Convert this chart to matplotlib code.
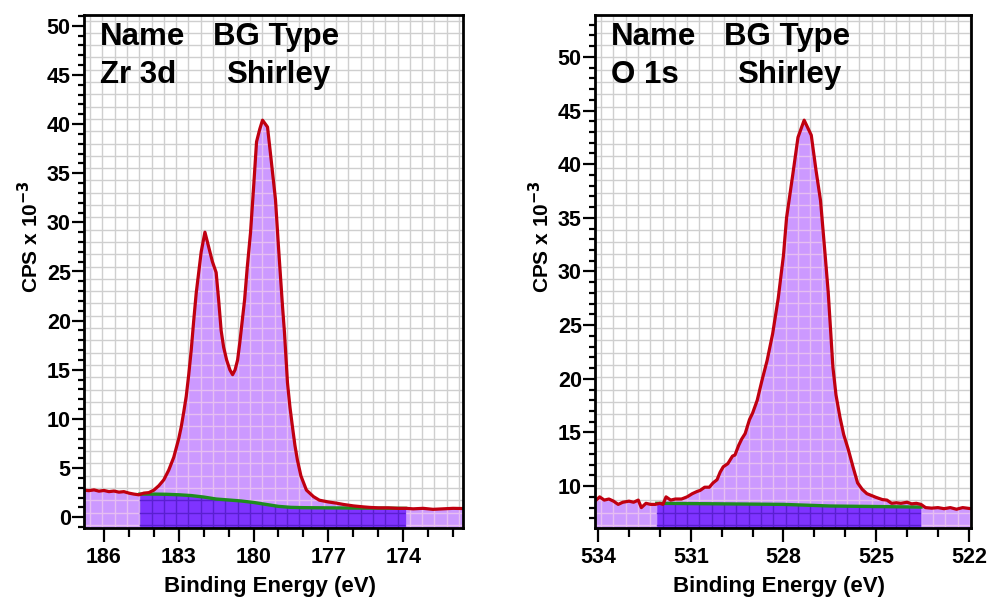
import numpy as np
import matplotlib
matplotlib.use("Agg")
import matplotlib.pyplot as plt
from matplotlib.lines import Line2D
from matplotlib.ticker import MultipleLocator

plt.rcParams['font.family'] = ['Liberation Sans', 'DejaVu Sans']
plt.rcParams['font.weight'] = 'bold'
plt.rcParams['mathtext.default'] = 'bf'

# Zr 3d spectrum (binding energy eV, CPS x 1e-3)
zr_be = [186.8, 186.6, 186.4, 186.2, 186.0, 185.8, 185.6, 185.4, 185.2, 185.0,
         184.8, 184.6, 184.4, 184.2, 184.0, 183.8, 183.6, 183.4, 183.2, 183.0,
         182.9, 182.8, 182.7, 182.6, 182.5, 182.4, 182.3, 182.2, 182.1, 181.95,
         181.8, 181.65, 181.5, 181.4, 181.3, 181.2, 181.08, 180.95, 180.84, 180.74,
         180.64, 180.55, 180.48, 180.36, 180.25, 180.12, 180.0, 179.88, 179.75, 179.64,
         179.44, 179.3, 179.12, 179.0, 178.84, 178.76, 178.64, 178.54, 178.44, 178.34,
         178.24, 178.1, 177.88, 177.6, 177.36, 177.0, 176.68, 176.4, 176.0, 175.6,
         175.36, 175.0, 174.6, 174.2, 173.88, 173.6, 173.2, 172.8, 172.4, 172.0, 171.6]
zr_cps = [2.75, 2.70, 2.78, 2.65, 2.72, 2.60, 2.66, 2.55, 2.60, 2.45,
          2.35, 2.28, 2.45, 2.50, 2.75, 3.2, 3.8, 4.8, 6.1, 8.0,
          9.2, 10.7, 12.3, 14.5, 17.0, 20.0, 22.8, 24.9, 27.0, 29.0,
          27.5, 26.0, 24.9, 22.1, 19.0, 17.3, 16.0, 15.0, 14.5, 15.0,
          16.0, 17.8, 19.4, 22.1, 25.5, 29.0, 33.5, 38.2, 39.5, 40.4,
          39.7, 36.5, 32.3, 27.5, 21.5, 18.8, 13.7, 11.2, 9.2, 7.3,
          5.8, 4.2, 2.76, 2.1, 1.73, 1.55, 1.43, 1.3, 1.15, 1.05,
          1.0, 0.95, 0.95, 0.9, 0.9, 0.85, 0.9, 0.8, 0.85, 0.9, 0.88]
zr_bg_be = [184.56, 184.0, 183.5, 183.0, 182.5, 182.0, 181.5, 181.0, 180.5, 180.0,
            179.5, 179.0, 178.5, 178.0, 177.0, 176.0, 175.0, 173.9]
zr_bg = [2.35, 2.35, 2.33, 2.28, 2.2, 2.05, 1.85, 1.75, 1.65, 1.5,
         1.3, 1.1, 1.0, 0.97, 0.95, 0.93, 0.92, 0.9]

# O 1s spectrum
o_be = [534.1, 533.95, 533.8, 533.65, 533.5, 533.35, 533.2, 533.0, 532.85, 532.7,
        532.6, 532.45, 532.3, 532.15, 532.0, 531.9, 531.8, 531.65, 531.5, 531.3,
        531.12, 530.95, 530.8, 530.7, 530.55, 530.4, 530.28, 530.15, 530.05, 529.95,
        529.8, 529.65, 529.57, 529.45, 529.35, 529.24, 529.1, 529.0, 528.85, 528.7,
        528.53, 528.35, 528.17, 528.0, 527.9, 527.7, 527.53, 527.33, 527.1, 526.95,
        526.8, 526.65, 526.55, 526.4, 526.3, 526.17, 526.05, 525.9, 525.75, 525.6,
        525.45, 525.3, 525.0, 524.8, 524.65, 524.5, 524.35, 524.2, 524.0, 523.85,
        523.7, 523.55, 523.4, 523.2, 523.0, 522.8, 522.6, 522.4, 522.2, 521.93]
o_cps = [8.6, 9.0, 8.7, 8.8, 8.6, 8.3, 8.5, 8.6, 8.5, 8.7,
         8.0, 8.4, 8.3, 8.3, 8.4, 8.3, 9.0, 8.7, 8.8, 8.8,
         9.0, 9.3, 9.5, 9.6, 9.9, 9.9, 10.3, 10.6, 11.3, 11.8,
         12.1, 12.8, 12.9, 13.8, 14.4, 14.9, 16.2, 16.8, 18.0, 19.8,
         21.7, 24.2, 27.5, 31.5, 35.0, 39.0, 42.5, 44.1, 42.7, 39.5,
         36.6, 31.5, 28.0, 21.1, 18.5, 16.4, 14.8, 13.4, 11.8, 10.3,
         9.7, 9.3, 8.95, 8.75, 8.7, 8.4, 8.45, 8.4, 8.5, 8.35,
         8.4, 8.3, 8.0, 7.95, 8.0, 7.9, 8.0, 7.85, 8.0, 7.9]
o_bg_be = [532.1, 530.0, 528.0, 526.5, 525.0, 523.55]
o_bg = [8.4, 8.35, 8.3, 8.15, 8.1, 8.05]

panels = [
    dict(name="Zr 3d", be=zr_be, cps=zr_cps, bg_be=zr_bg_be, bg=zr_bg,
         xlim=(186.8, 171.6), ylim=(-1.1, 51.1), xticks=[186, 183, 180, 177, 174]),
    dict(name="O 1s", be=o_be, cps=o_cps, bg_be=o_bg_be, bg=o_bg,
         xlim=(534.1, 521.93), ylim=(6.1, 53.9), xticks=[534, 531, 528, 525, 522]),
]

W, H = 989, 598
fig = plt.figure(figsize=(W / 100, H / 100), dpi=100)
axes_px = [(84, 15, 463, 528), (595, 15, 971, 528)]

light = '#CC99FF'
dark = '#7F33FF'


def grid_lines(ax, w_px, h_px, color, z, clip=None):
    # fixed square cell grid, like the instrument software draws it
    step = 12.3
    lines = []
    for xp in np.arange(6, w_px, step):
        f = xp / w_px
        lines.append(Line2D([f, f], [0, 1], transform=ax.transAxes))
    for yp in np.arange(5.5, h_px, step):
        f = 1 - yp / h_px
        lines.append(Line2D([0, 1], [f, f], transform=ax.transAxes))
    for ln in lines:
        ln.set_color(color)
        ln.set_linewidth(1.0)
        ln.set_zorder(z)
        if clip is not None:
            ln.set_clip_path(clip.get_paths()[0], ax.transData)
        ax.add_line(ln)


for p, (x0, y0, x1, y1) in zip(panels, axes_px):
    ax = fig.add_axes([x0 / W, 1 - y1 / H, (x1 - x0) / W, (y1 - y0) / H])
    ax.set_xlim(*p['xlim'])
    ax.set_ylim(*p['ylim'])
    bottom = p['ylim'][0]
    w_px, h_px = x1 - x0, y1 - y0

    grid_lines(ax, w_px, h_px, '#cfcfcf', 1)
    fl = ax.fill_between(p['be'], p['cps'], bottom, color=light, lw=0, zorder=2)
    grid_lines(ax, w_px, h_px, '#E6BEF2', 2.1, clip=fl)
    fd = ax.fill_between(p['bg_be'], p['bg'], bottom, color=dark, lw=0, zorder=2.2)
    grid_lines(ax, w_px, h_px, '#5A1FD0', 2.3, clip=fd)
    ax.plot(p['bg_be'], p['bg'], color='#1E8C1E', lw=2.4, zorder=3)
    ax.plot(p['be'], p['cps'], color='#C00010', lw=2.3, zorder=4)

    ax.set_xticks(p['xticks'])
    ax.xaxis.set_minor_locator(MultipleLocator(1))
    ax.yaxis.set_major_locator(MultipleLocator(5))
    ax.yaxis.set_minor_locator(MultipleLocator(1))
    ax.tick_params(axis='x', which='major', direction='out', length=10, width=1.6,
                   labelsize=15.5, pad=4)
    ax.tick_params(axis='x', which='minor', direction='out', length=6.5, width=1.6)
    ax.tick_params(axis='y', which='major', direction='out', length=8.5, width=1.6,
                   labelsize=15.5, pad=1)
    ax.tick_params(axis='y', which='minor', direction='out', length=4, width=1.6)
    for lab in ax.get_xticklabels() + ax.get_yticklabels():
        lab.set_fontweight('bold')
    for s in ax.spines.values():
        s.set_linewidth(2)
        s.set_zorder(6)

    # header text
    fig.text((x0 + 16) / W, 1 - 45 / H, "Name", fontsize=22.5, fontweight='bold', va='baseline')
    fig.text((x0 + 129) / W, 1 - 45 / H, "BG Type", fontsize=22.5, fontweight='bold', va='baseline')
    fig.text((x0 + 16) / W, 1 - 83 / H, p['name'], fontsize=22.5, fontweight='bold', va='baseline')
    fig.text((x0 + 142) / W, 1 - 83 / H, "Shirley", fontsize=22.5, fontweight='bold', va='baseline')

    fig.text(((x0 + x1) / 2 - 4) / W, 1 - 592 / H, "Binding Energy (eV)", fontsize=16,
             fontweight='bold', ha='center', va='baseline')
    fig.text((x0 - 54) / W, 1 - 237 / H, r"CPS x 10$^{-3}$", fontsize=15,
             fontweight='bold', rotation=90, ha='center', va='center')

fig.savefig("out.png", dpi=100)
